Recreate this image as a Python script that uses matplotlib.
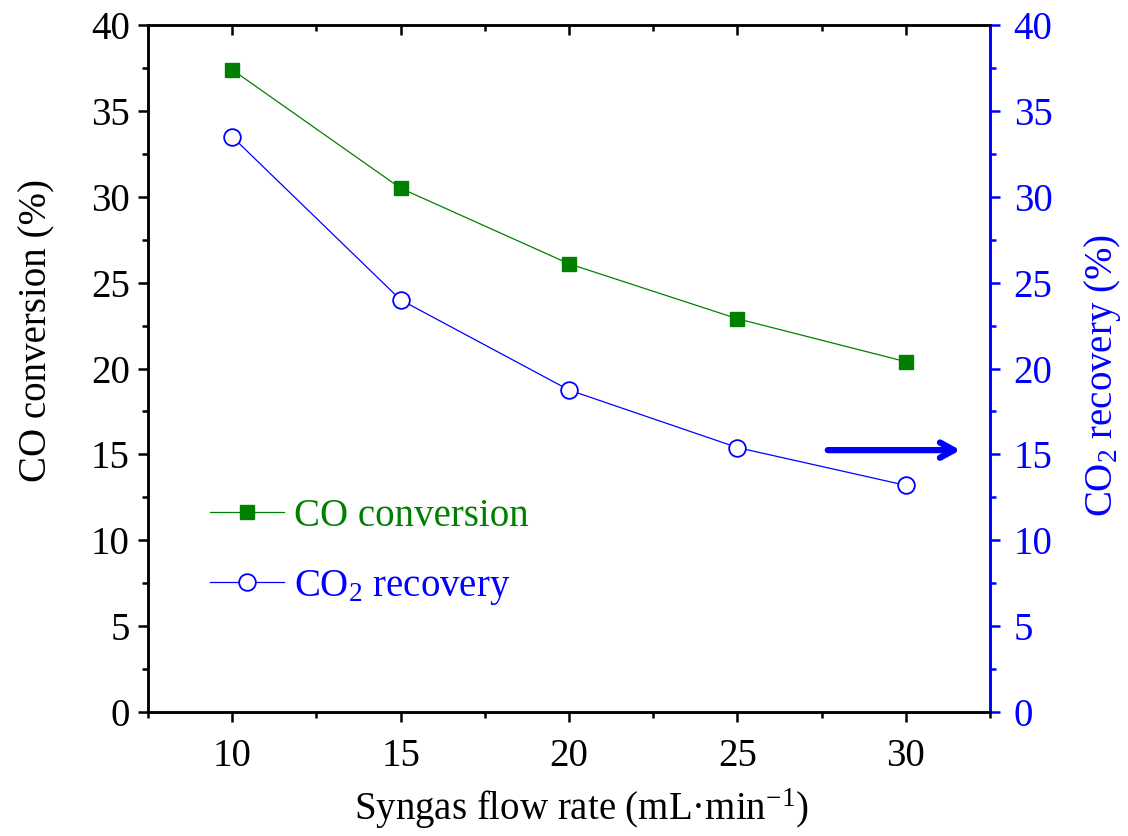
import matplotlib
matplotlib.use("Agg")
import matplotlib.pyplot as plt
from matplotlib.ticker import MultipleLocator

plt.rcParams['font.family'] = ['Liberation Serif', 'DejaVu Serif']
plt.rcParams['mathtext.fontset'] = 'custom'
plt.rcParams['mathtext.rm'] = 'Liberation Serif'
plt.rcParams['mathtext.it'] = 'Liberation Serif:italic'

flow_rate = [10, 15, 20, 25, 30]
co_conversion = [37.4, 30.5, 26.1, 22.9, 20.4]
co2_recovery = [33.5, 24.0, 18.75, 15.4, 13.2]

green = '#008000'
blue = '#0000FF'

fig = plt.figure(figsize=(11.28, 8.36), dpi=100)
ax = fig.add_axes([0.1312, 0.1483, 0.7465, 0.8217])
ax2 = ax.twinx()

l1, = ax.plot(flow_rate, co_conversion, '-s', color=green, lw=0.9,
              ms=9.5, mfc=green, mec=green, label='CO conversion')
l2, = ax2.plot(flow_rate, co2_recovery, '-o', color=blue, lw=0.9,
               ms=12, mfc='white', mec=blue, mew=1.3, label='CO$_\\mathregular{2}$ recovery')

ax.set_xlim(7.5, 32.5)
ax.set_ylim(0, 40)
ax2.set_ylim(0, 40)

fs = 28
ax.xaxis.set_major_locator(MultipleLocator(5))
ax.xaxis.set_minor_locator(MultipleLocator(2.5))
ax.yaxis.set_major_locator(MultipleLocator(5))
ax.yaxis.set_minor_locator(MultipleLocator(2.5))
ax2.yaxis.set_major_locator(MultipleLocator(5))
ax2.yaxis.set_minor_locator(MultipleLocator(2.5))

for sp in ax.spines.values():
    sp.set_linewidth(1.8)
for sp in ax2.spines.values():
    sp.set_linewidth(1.8)
ax2.spines['right'].set_color(blue)

ax.tick_params(axis='x', which='major', direction='out', length=7, width=1.8,
               labelsize=fs, top=True, pad=12)
ax.tick_params(axis='x', which='minor', direction='out', length=4, width=1.8, top=True)
ax.tick_params(axis='y', which='major', direction='out', length=7, width=1.8, labelsize=fs, pad=6)
ax.tick_params(axis='y', which='minor', direction='out', length=4, width=1.8)
ax2.tick_params(axis='y', which='major', direction='out', length=7, width=1.8,
                labelsize=fs, colors=blue, pad=10)
ax2.tick_params(axis='y', which='minor', direction='out', length=4, width=1.8, colors=blue)

# top ticks inward
for t in ax.xaxis.get_major_ticks() + ax.xaxis.get_minor_ticks():
    t.tick2line.set_marker(3)  # TICKDOWN

ax.set_xlabel('Syngas flow rate (mL·min$^{\\mathregular{-1}}$)', fontsize=fs)
ax.xaxis.set_label_coords(0.515, -0.108)
ax.set_ylabel('CO conversion (%)', fontsize=fs)
ax.yaxis.set_label_coords(-0.11, 0.555)
ax2.set_ylabel('CO$_\\mathregular{2}$ recovery (%)', fontsize=fs, color=blue)
ax2.yaxis.set_label_coords(1.109, 0.49)

ax.annotate('', xy=(31.7, 15.25), xytext=(27.6, 15.25),
            arrowprops=dict(arrowstyle='->,head_length=1.0,head_width=0.55', color=blue, lw=4.5))

leg = ax.legend(handles=[l1, l2], loc='upper left', bbox_to_anchor=(0.0736, 0.312),
                frameon=False, fontsize=fs, handlelength=1.9, handletextpad=0.25,
                labelspacing=0.85, labelcolor='linecolor', borderpad=0, borderaxespad=0)

fig.savefig('out.png', dpi=100)
